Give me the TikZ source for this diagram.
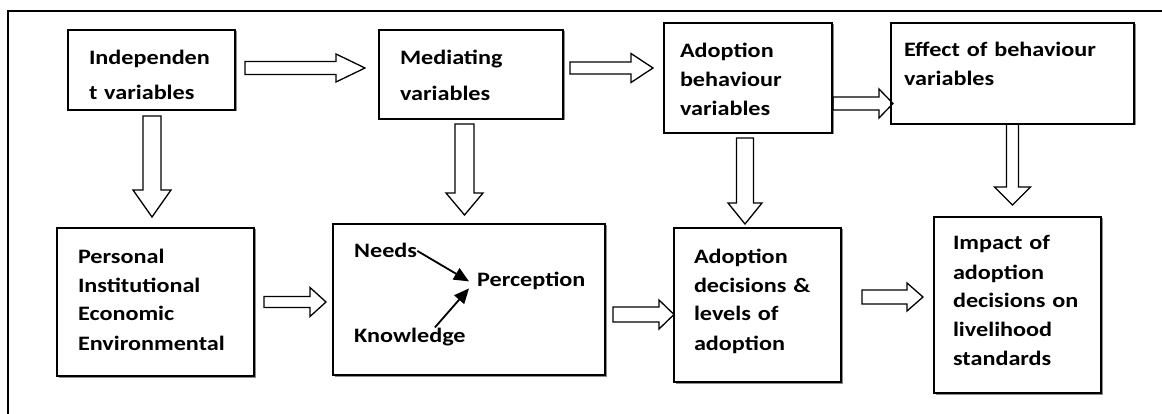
\documentclass[tikz,border=0pt]{standalone}
\usepackage{fontspec}
\setmainfont[FakeStretch=1.18]{Carlito}
\usetikzlibrary{arrows.meta,calc,shadows}

\newcommand{\boxfont}{\fontsize{20.5}{29}\selectfont\bfseries}
\newcommand{\wideboxfont}{\fontsize{20.5}{35.5}\selectfont\bfseries}

\tikzset{
  varbox/.style={draw, fill=white, line width=1.8pt, anchor=north west, align=left,
    inner ysep=0pt, outer sep=0pt, font=\boxfont,
    drop shadow={shadow xshift=1.5pt, shadow yshift=-1.5pt, fill=black!45, opacity=1}},
  lbl/.style={font=\boxfont, inner sep=0pt, anchor=base west},
  innerarrow/.style={line width=1.8pt, -{Triangle[length=15pt,width=13pt]}},
  arrshaft/.store in=\arrshaft, arrshaft=6.5pt,
  arrhead/.store in=\arrhead, arrhead=14.5pt,
  arrtip/.store in=\arrtip, arrtip=16pt,
  blockright/.style={draw, line width=1.3pt, to path={let \p1=(\tikztostart), \p2=(\tikztotarget) in
    (\x1,\y1+\arrshaft) -- (\x2-\arrtip,\y1+\arrshaft) -- (\x2-\arrtip,\y1+\arrhead) -- (\x2,\y1)
    -- (\x2-\arrtip,\y1-\arrhead) -- (\x2-\arrtip,\y1-\arrshaft) -- (\x1,\y1-\arrshaft) -- cycle}},
  blockdown/.style={draw, line width=1.3pt, to path={let \p1=(\tikztostart), \p2=(\tikztotarget) in
    (\x1+\arrshaft,\y1) -- (\x1+\arrshaft,\y2+\arrtip) -- (\x1+\arrhead,\y2+\arrtip) -- (\x1,\y2)
    -- (\x1-\arrhead,\y2+\arrtip) -- (\x1-\arrshaft,\y2+\arrtip) -- (\x1-\arrshaft,\y1) -- cycle}},
}

\begin{document}
\begin{tikzpicture}[x=1pt, y=-1pt]
    \useasboundingbox (0,0) rectangle (1162,414);
    \draw[line width=1.8pt] (8,414) -- (8,11) -- (1162,11);

    % top row
    \node[varbox, font=\wideboxfont, inner xsep=21pt, text width=125pt, text height=34.5pt, text depth=45.5pt] (indep) at (68,30) {Independen\\t variables};
    \node[varbox, font=\wideboxfont, inner xsep=21pt, text width=142pt, text height=35pt, text depth=54pt] (med) at (379,30) {Mediating\\variables};
    \node[varbox, inner xsep=16pt, text width=136pt, text height=35pt, text depth=75pt] (adbeh) at (664,23) {Adoption\\behaviour\\variables};
    \node[varbox, inner xsep=13pt, text width=217pt, text height=34pt, text depth=67pt] (effect) at (891,23) {Effect of behaviour\\variables};

    % bottom row
    \node[varbox, inner xsep=21pt, text width=155pt, text height=35pt, text depth=113pt] (personal) at (57,228) {Personal\\Institutional\\Economic\\Environmental};
    \node[varbox, inner sep=0pt, minimum width=272pt, minimum height=151pt] (needsbox) at (333,224) {};
    \node[varbox, inner xsep=20pt, text width=127pt, text height=35pt, text depth=119pt] (addec) at (674,228) {Adoption\\decisions \&\\levels of\\adoption};
    \node[varbox, inner xsep=19pt, text width=129pt, text height=33pt, text depth=143pt] (impact) at (934,217) {Impact of\\adoption\\decisions~on\\livelihood\\standards};

    % inside the perception box
    \node[lbl] (needs) at (354,258) {Needs};
    \node[lbl] (perc) at (477,287) {Perception};
    \node[lbl] (know) at (354,342) {Knowledge};
    \draw[innerarrow] (needs.east) -- ([xshift=-8pt]perc.west);
    \draw[innerarrow] ([xshift=25pt]know.north) -- ([shift={(-8,7)}]perc.west);

    % block arrows across
    \draw[blockright, arrshaft=6.5pt, arrhead=14pt, arrtip=29pt] ([shift={(10,-2)}]indep.east) to ([xshift=-14pt]med.west);
    \draw[blockright, arrshaft=6pt, arrhead=14.5pt, arrtip=22pt] ([shift={(7,-6.5)}]med.east) to ([xshift=-11pt]adbeh.west);
    \draw[blockright, arrshaft=6.5pt, arrhead=14.5pt, arrtip=14pt] ([shift={(1,25.5)}]adbeh.east) to ([xshift=2pt]effect.west);
    \draw[blockright, arrshaft=5.5pt, arrhead=14.5pt, arrtip=16pt] ([xshift=10pt]personal.east) to ([xshift=-7pt]needsbox.west);
    \draw[blockright, arrshaft=7.5pt, arrhead=14.5pt, arrtip=15pt] ([shift={(8,15)}]needsbox.east) to (addec.west);
    \draw[blockright, arrshaft=7pt, arrhead=14pt, arrtip=16pt] ([shift={(21,-8)}]addec.east) to ([xshift=-11pt]impact.west);

    % block arrows down
    \draw[blockdown, arrshaft=9pt, arrhead=19pt, arrtip=27pt] ([shift={(0.5,6)}]indep.south) to ([yshift=11pt]personal.north);
    \draw[blockdown, arrshaft=9.5pt, arrhead=18.5pt, arrtip=22pt] ([shift={(-6.5,5)}]med.south) to ([yshift=9pt]needsbox.north);
    \draw[blockdown, arrshaft=8.5pt, arrhead=17pt, arrtip=21pt] ([shift={(-3,5)}]adbeh.south) to ([yshift=4pt]addec.north);
    \draw[blockdown, arrshaft=6pt, arrhead=18pt, arrtip=18pt] (effect.south) to ([yshift=12pt]impact.north);
\end{tikzpicture}
\end{document}
